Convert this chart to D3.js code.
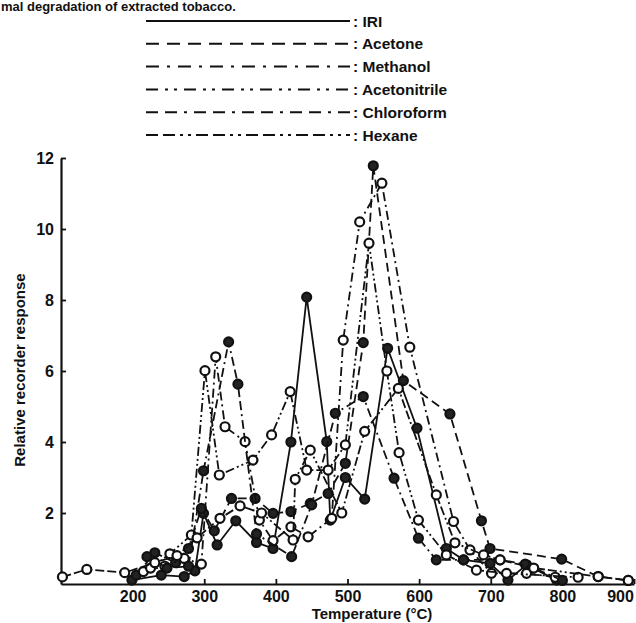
<!DOCTYPE html>
<html><head><meta charset="utf-8">
<script src="https://cdn.jsdelivr.net/npm/d3@7"></script>
<style>body{margin:0;background:#fff}svg{display:block}text{font-family:"Liberation Sans",Arial,sans-serif;font-weight:bold;fill:#111}</style>
</head><body>
<script>
const seriesNames = ["IRI","Acetone","Methanol","Acetonitrile","Chloroform","Hexane"];
const xTicks = [200,300,400,500,600,700,800,900];
const yTicks = [2,4,6,8,10,12];
const iri = [[199,.11],[240,.25],[272,.21],[287,.37],[299,1.99],[318,1.1],[344,1.78],[373,1.17],[396,1.0],[421,4.0],[443,8.08],[471,4.01],[476,1.8],[497,3.0],[524,2.39],[556,6.64],[597,4.39],[638,1.0],[662,.68],[699,.58],[724,.11],[750,.54],[792,.11]];
const acetone = [[205,.25],[231,.88],[260,.6],[278,1.0],[296,2.13],[314,1.5],[338,2.41],[371,2.41],[396,1.99],[421,2.04],[448,2.27],[473,2.55],[497,3.4],[522,6.8],[536,11.78],[578,5.73],[643,4.79],[687,1.78],[699,1.0],[799,.7],[850,.21],[892,.1]];
const methanol = [[215,.35],[245,.5],[272,.72],[296,.56],[316,6.4],[329,4.43],[357,4.01],[377,1.8],[396,1.22],[421,1.61],[445,1.33],[478,1.85],[494,6.87],[517,10.2],[548,11.29],[587,6.67],[648,1.76],[671,.96],[701,.3],[750,.3],[790,.19]];
const acetonitrile = [[225,.45],[252,.85],[282,1.38],[301,6.01],[321,3.07],[368,3.49],[394,4.2],[420,5.42],[443,3.21],[473,3.21],[497,3.92],[530,9.6],[555,6.0],[572,3.7],[599,1.8],[638,.82],[680,.39],[722,.3],[822,.19]];
const chloroform = [[220,.77],[248,.45],[278,.5],[299,3.19],[334,6.82],[347,5.63],[373,1.41],[422,.77],[450,2.23],[483,4.81],[522,5.28],[565,2.98],[599,1.29],[624,.68],[662,.68],[713,.68],[748,.56],[800,.1]];
const hexane = [[102,.2],[136,.41],[189,.32],[231,.6],[262,.8],[290,1.3],[322,1.85],[350,2.2],[380,2.0],[424,1.24],[427,2.95],[448,3.77],[492,2.0],[524,4.3],[571,5.51],[624,2.51],[650,1.16],[690,.82],[713,.68],[760,.45],[850,.21],[892,.1]];
const seriesData = [iri,acetone,methanol,acetonitrile,chloroform,hexane];

const dashes = ["none","9,5","9,4,2,4","9,3,2,3,2,3","9,4,9,4,2,4","9,3,9,3,2,3,2,3"];
const legendDashes = ["none","13,8","13,8,3,8","12,7,3,6,3,7","12,7,12,7,3,7","12,5,12,5,3,5,3,5"];
const filled = [true,true,false,false,true,false];

const W=636,H=623;
const svg = d3.select("body").append("svg").attr("width",W).attr("height",H);
const x = d3.scaleLinear().domain([100,900]).range([61,634]);
const y = d3.scaleLinear().domain([0,12]).range([584,158]);

// title line at the top
svg.append("text").attr("x",1).attr("y",11).style("font-size","13px").text("mal degradation of extracted tobacco.");

// legend
const lg = svg.append("g");
seriesNames.forEach((n,i)=>{
  const yy = 21 + i*22.8;
  lg.append("line").attr("x1",146).attr("x2",350).attr("y1",yy).attr("y2",yy)
    .attr("stroke","#111").attr("stroke-width",2).attr("stroke-dasharray",legendDashes[i]);
  lg.append("text").attr("x",353).attr("y",yy+5.5).style("font-size","15.5px").text(": "+n);
});

// axes
const xAxis = d3.axisBottom(x).tickValues(xTicks).tickSizeInner(-5).tickSizeOuter(0).tickPadding(7);
const gx = svg.append("g").attr("transform","translate(0,584)").call(xAxis);
gx.select(".domain").attr("stroke","#111").attr("stroke-width",2.2);
gx.selectAll(".tick line").attr("stroke","#111").attr("stroke-width",1.8);
gx.selectAll(".tick text").style("font-size","16px").style("font-family","'Liberation Sans',Arial,sans-serif").style("font-weight","bold").attr("fill","#111")
  .attr("dx",d=>d===900?-14:0);
const yAxis = d3.axisLeft(y).tickValues(yTicks).tickSizeInner(-5).tickSizeOuter(0).tickPadding(7);
const gy = svg.append("g").attr("transform","translate(61,0)").call(yAxis);
gy.select(".domain").attr("stroke","#111").attr("stroke-width",2.2);
gy.selectAll(".tick line").attr("stroke","#111").attr("stroke-width",1.8);
gy.selectAll(".tick text").style("font-size","16px").style("font-family","'Liberation Sans',Arial,sans-serif").style("font-weight","bold").attr("fill","#111");

svg.append("text").attr("transform","translate(25,370) rotate(-90)").attr("text-anchor","middle").style("font-size","15px").text("Relative recorder response");
svg.append("text").attr("x",372).attr("y",619).attr("text-anchor","middle").style("font-size","15px").text("Temperature (°C)");

// series
const line = d3.line().x(d=>x(d[0])).y(d=>y(d[1]));
seriesData.forEach((data,i)=>{
  const g = svg.append("g");
  g.append("path").datum(data).attr("d",line).attr("fill","none").attr("stroke","#111")
    .attr("stroke-width",1.8).attr("stroke-dasharray",dashes[i]);
  g.selectAll("circle").data(data).join("circle").attr("cx",d=>x(d[0])).attr("cy",d=>y(d[1]))
    .attr("r",4.5).attr("fill",filled[i]?"#222":"#fff").attr("stroke","#111").attr("stroke-width",2.2);
});
</script>
</body></html>
